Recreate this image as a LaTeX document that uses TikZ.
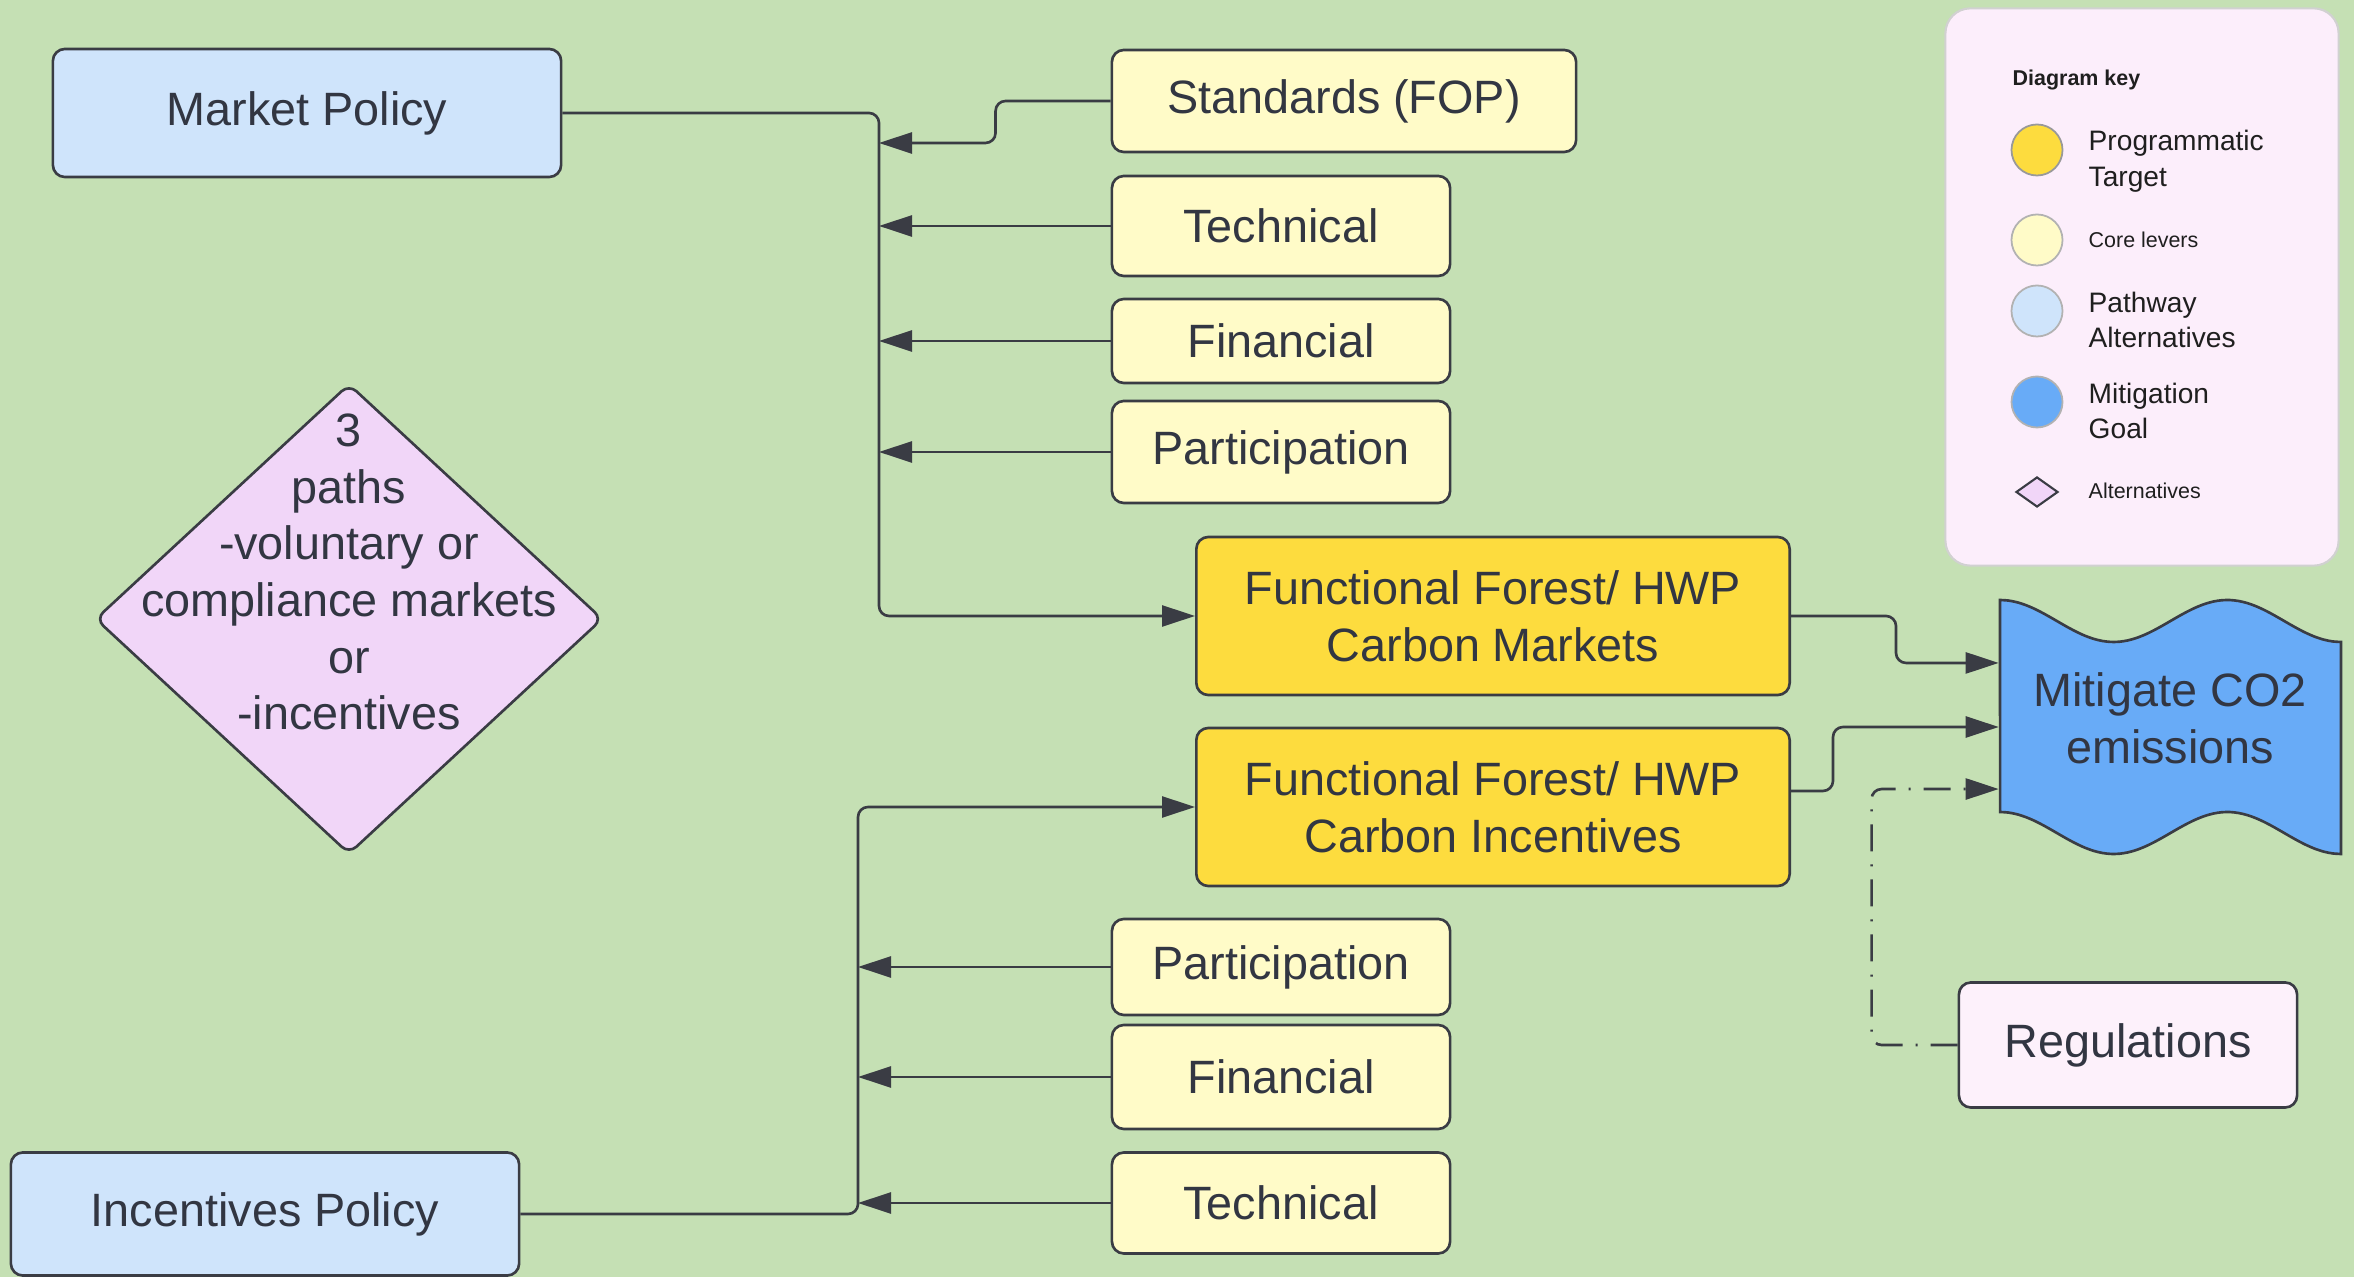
\documentclass[tikz,border=0pt]{standalone}
\usepackage{fontspec}
\setmainfont{Liberation Sans}
\usepackage{xcolor}
\usepackage{tikz}
\usetikzlibrary{arrows.meta,shapes.geometric}

\definecolor{bggreen}{RGB}{197,224,180}
\definecolor{inkgray}{RGB}{50,54,66}
\definecolor{linegray}{RGB}{58,60,68}
\definecolor{pathblue}{RGB}{207,228,251}
\definecolor{leveryellow}{RGB}{255,251,200}
\definecolor{targetyellow}{RGB}{253,220,62}
\definecolor{goalblue}{RGB}{104,171,247}
\definecolor{altpink}{RGB}{241,214,248}
\definecolor{notepink}{RGB}{253,241,251}
\definecolor{keypink}{RGB}{252,238,251}

\begin{document}
\begin{tikzpicture}[
    x=0.01cm,y=-0.01cm,
    font=\fontsize{13.3}{16.1}\selectfont,
    text=inkgray,
    box/.style={rectangle,draw=linegray,line width=0.75pt,rounded corners=0.12cm,align=center,inner sep=0pt},
    policy/.style={box,fill=pathblue,minimum width=5.08cm,minimum height=1.28cm},
    lever/.style={box,fill=leveryellow,minimum width=3.38cm},
    target/.style={box,fill=targetyellow,minimum width=5.93cm,minimum height=1.58cm},
    arrow/.style={-{Triangle[length=0.33cm,width=0.21cm]},draw=linegray,line width=0.75pt,rounded corners=0.1cm},
    optarrow/.style={arrow,dash pattern=on 0.27cm off 0.13cm on 0.02cm off 0.13cm},
    keytext/.style={anchor=west,inner sep=0pt,align=left,text=black!88},
    keydot/.style={circle,draw=black!30,line width=0.5pt,minimum size=0.51cm,inner sep=0pt}
]
\fill[bggreen] (0,0) rectangle (2354,1277);
\useasboundingbox (0,0) rectangle (2354,1277);

\node[policy] (market) at (307,113) {Market Policy};
\node[policy,minimum height=1.23cm] (incp) at (265,1214) {Incentives Policy};
\node[lever,minimum width=4.64cm,minimum height=1.02cm] (std) at (1344,101) {Standards (FOP)};
\node[lever,minimum height=1.0cm] (tech1) at (1281,226) {Technical};
\node[lever,minimum height=0.84cm] (fin1) at (1281,341) {Financial};
\node[lever,minimum height=1.02cm] (part1) at (1281,452) {Participation};
\node[target] (ffm) at (1493,616) {Functional Forest/ HWP\\Carbon Markets};
\node[target] (ffi) at (1493,807) {Functional Forest/ HWP\\Carbon Incentives};
\node[lever,minimum height=0.96cm] (part2) at (1281,967) {Participation};
\node[lever,minimum height=1.04cm] (fin2) at (1281,1077) {Financial};
\node[lever,minimum height=1.01cm] (tech2) at (1281,1203) {Technical};
\node[box,fill=notepink,minimum width=3.38cm,minimum height=1.25cm] (regs) at (2128,1045) {Regulations};

\node[diamond,draw=linegray,line width=0.75pt,fill=altpink,rounded corners=0.1cm,
      minimum width=5.07cm,minimum height=4.7cm,inner sep=0pt] (paths) at (349,619) {};
\node[align=center] (pathstxt) at (349,572) {3\\paths\\-voluntary or\\compliance markets\\or\\-incentives};

\draw[linegray,line width=0.75pt,fill=goalblue]
  plot[domain=0:1,samples=41,smooth] ({2000+341*\x},{621-21*cos(540*\x)})
  -- plot[domain=1:0,samples=41,smooth] ({2000+341*\x},{833-21*cos(540*\x)}) -- cycle;
\node[minimum width=3.41cm,minimum height=2.1cm,align=center,inner sep=0pt] (goal) at (2170,718) {Mitigate CO2\\emissions};

\node[rectangle,draw=black!18,line width=0.6pt,fill=keypink,rounded corners=0.25cm,
      minimum width=3.93cm,minimum height=5.57cm] (key) at (2142,287) {};
\node[keytext,font=\fontsize{6.1}{7.5}\selectfont\bfseries] (keytitle) at (2012,80) {Diagram key};
\node[keydot,fill=targetyellow,draw=black!40] (kd1) at (2037,150) {};
\node[keydot,fill=leveryellow] (kd2) at (2037,240) {};
\node[keydot,fill=pathblue] (kd3) at (2037,311) {};
\node[keydot,fill=goalblue] (kd4) at (2037,402) {};
\node[diamond,draw=linegray,line width=0.6pt,fill=altpink,minimum width=0.42cm,minimum height=0.3cm,inner sep=0pt] (kd5) at (2037,492) {};
\node[keytext,font=\fontsize{8}{10.2}\selectfont] (kt1) at (2088,161) {Programmatic\\Target};
\node[keytext,font=\fontsize{6.1}{7.5}\selectfont] (kt2) at (2088,240) {Core levers};
\node[keytext,font=\fontsize{8}{10.2}\selectfont] (kt3) at (2088,320) {Pathway\\Alternatives};
\node[keytext,font=\fontsize{8}{10.2}\selectfont] (kt4) at (2088,411) {Mitigation\\Goal};
\node[keytext,font=\fontsize{6.1}{7.5}\selectfont] (kt5) at (2088,491) {Alternatives};

\coordinate (mtrunk) at (879,113);
\coordinate (stdin) at (879,143);
\coordinate (itrunk) at (858,1214);

\draw[arrow] (market.east) -- (mtrunk) |- (ffm.west);
\draw[arrow] (std.west) -- ++(-115,0) |- (stdin);
\foreach \n in {tech1,fin1,part1}
  \draw[arrow] (\n.west) -- (\n.west -| mtrunk);
\draw[arrow] (incp.east) -- (itrunk) |- (ffi.west);
\foreach \n in {part2,fin2,tech2}
  \draw[arrow] (\n.west) -- (\n.west -| itrunk);
\draw[arrow] (ffm.east) -- ++(105,0) |- ([yshift=0.55cm]goal.west);
\draw[arrow] ([yshift=0.16cm]ffi.east) -- ++(42,0) |- ([yshift=-0.09cm]goal.west);
\draw[optarrow] (regs.west) -- ++(-86,0) |- ([yshift=-0.71cm]goal.west);
\end{tikzpicture}
\end{document}
